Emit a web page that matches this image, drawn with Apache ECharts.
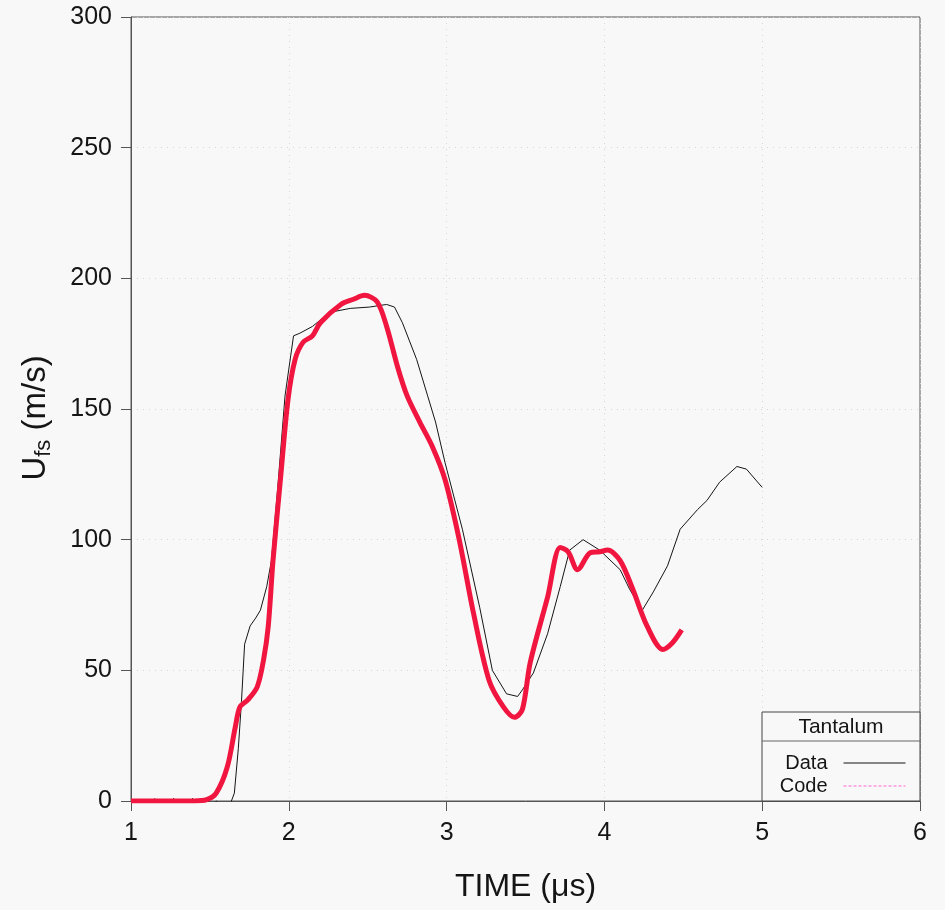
<!DOCTYPE html>
<html>
<head>
<meta charset="utf-8">
<script src="https://cdn.jsdelivr.net/npm/echarts@6/dist/echarts.min.js"></script>
<style>
  html, body { margin: 0; padding: 0; background: #f8f8f8; }
  #chart { width: 945px; height: 910px; }
</style>
</head>
<body>
<div id="chart"></div>
<script>
// measured free-surface velocity (black trace)
const dataTime = [1.15, 1.18, 1.21, 1.24, 1.27, 1.30, 1.33, 1.36, 1.39, 1.42, 1.45, 1.48, 1.51, 1.54, 1.57, 1.60, 1.63, 1.655,
  1.68, 1.70, 1.72, 1.755, 1.79, 1.82, 1.86, 1.89, 1.93, 1.976, 2.03, 2.07, 2.15, 2.26, 2.39, 2.51, 2.62, 2.67, 2.72, 2.81,
  2.88, 2.93, 2.99, 3.10, 3.21, 3.29, 3.38, 3.45, 3.48, 3.55, 3.64, 3.72, 3.78, 3.865, 3.97, 4.10, 4.16, 4.24, 4.31, 4.40,
  4.48, 4.59, 4.65, 4.73, 4.84, 4.90, 5.0]
const dataVel = [1, -2, 0, -3, 1, -2, 0, -2, 1, -1, -2, 1, -2, 0, -1, -2, -1, 3,
  20, 38, 60, 67, 70, 73, 82, 92, 120, 155, 178, 179, 181.6, 187, 188.5, 189, 190, 189, 183, 169,
  155, 145, 129.5, 104, 74, 50, 41, 40, 42.5, 49, 64, 82, 96, 100, 96, 88.5, 81, 73, 80, 90,
  104, 111.5, 115, 122, 128, 127, 120]

// simulation (red trace)
const codeTime = [1.0, 1.2, 1.4, 1.48, 1.54, 1.61, 1.66, 1.69, 1.74, 1.80, 1.84, 1.87, 1.90, 1.95, 1.995, 2.04, 2.09, 2.15,
  2.20, 2.33, 2.41, 2.48, 2.56, 2.62, 2.69, 2.75, 2.83, 2.91, 2.99, 3.08, 3.17, 3.27, 3.36, 3.43, 3.48, 3.53, 3.64, 3.72,
  3.77, 3.83, 3.91, 3.97, 4.02, 4.10, 4.18, 4.27, 4.37, 4.43, 4.49]
const codeVel = [0, 0, 0, 0.5, 3, 13, 28, 36, 38.7, 43.7, 54, 67, 92, 125, 153.6, 169, 175.5, 178,
  183, 190, 192, 193.5, 191, 181.6, 166, 155, 145, 135.6, 123, 100, 72, 46, 36, 32, 35, 53, 78, 97,
  95.4, 88.5, 95, 95.4, 96, 92, 81, 67, 58, 60.5, 65.5]

const xTicks = [1, 2, 3, 4, 5, 6]
const yTicks = [0, 50, 100, 150, 200, 250, 300]

const font = 'Liberation Sans, Arial, sans-serif'
const ink = '#151515'

const chart = echarts.init(document.getElementById('chart'))

const zip = (xs, ys) => xs.map((x, i) => [x, ys[i]])

chart.setOption({
  backgroundColor: '#f8f8f8',
  animation: false,
  textStyle: {fontFamily: font, color: ink},
  grid: {
    left: 131,
    right: 25,
    top: 17,
    bottom: 109,
    show: true,
    borderColor: '#555',
    borderWidth: 1,
  },
  graphic: [
    {
      type: 'rect',
      shape: {x: 762, y: 712, width: 158, height: 89},
      style: {fill: '#f8f8f8', stroke: '#444', lineWidth: 1},
      z: 5,
    },
    {
      type: 'line',
      shape: {x1: 762, y1: 741, x2: 920, y2: 741},
      style: {stroke: '#666', lineWidth: 1},
      z: 6,
    },
    {
      type: 'text',
      x: 841,
      y: 727,
      style: {text: 'Tantalum', fontFamily: font, fontSize: 21, fill: ink, align: 'center', verticalAlign: 'middle'},
      z: 6,
    },
  ],
  legend: {
    orient: 'vertical',
    right: 39,
    top: 753,
    padding: 0,
    itemWidth: 62,
    itemHeight: 14,
    itemGap: 3,
    align: 'right',
    z: 7,
    textStyle: {fontFamily: font, fontSize: 20, color: ink, padding: [0, 11, 0, 0]},
    data: [
      {name: 'Data', itemStyle: {opacity: 0}, lineStyle: {color: ink, width: 1, type: 'solid'}},
      {name: 'Code', itemStyle: {opacity: 0}, lineStyle: {color: '#ff66cc', width: 1, type: [3, 2]}},
    ],
  },
  xAxis: {
    type: 'value',
    min: xTicks[0],
    max: xTicks[xTicks.length - 1],
    interval: 1,
    name: 'TIME (μs)',
    nameLocation: 'middle',
    nameGap: 70,
    nameTextStyle: {fontFamily: font, fontSize: 32, color: ink},
    axisLine: {show: true, onZero: false, lineStyle: {color: '#555'}},
    axisTick: {show: true, length: 10, lineStyle: {color: '#555'}},
    axisLabel: {fontFamily: font, fontSize: 25, color: ink, margin: 20},
    splitLine: {show: true, lineStyle: {color: '#d6d6d6', type: [1, 5]}},
  },
  yAxis: {
    type: 'value',
    min: yTicks[0],
    max: yTicks[yTicks.length - 1],
    interval: 50,
    name: '{a|U}{b|fs}{a| (m/s)}',
    nameLocation: 'middle',
    nameRotate: 90,
    nameGap: 76,
    nameTextStyle: {
      padding: [0, 18, 0, 0],
      rich: {
        a: {fontFamily: font, fontSize: 33, color: ink},
        b: {fontFamily: font, fontSize: 22, color: ink, padding: [16, 0, 0, 0]},
      },
    },
    axisLine: {show: true, lineStyle: {color: '#555'}},
    axisTick: {show: true, length: 10, lineStyle: {color: '#555'}},
    axisLabel: {fontFamily: font, fontSize: 25, color: ink, margin: 19},
    splitLine: {show: true, lineStyle: {color: '#d6d6d6', type: [1, 5]}},
  },
  series: [
    {
      name: 'Data',
      type: 'line',
      data: zip(dataTime, dataVel),
      symbol: 'none',
      lineStyle: {color: ink, width: 1},
      itemStyle: {color: ink},
      z: 3,
    },
    {
      name: 'Code',
      type: 'line',
      data: zip(codeTime, codeVel),
      symbol: 'none',
      smooth: 0.3,
      lineStyle: {color: '#f0163f', width: 5},
      itemStyle: {color: '#f0163f'},
      z: 4,
    },
  ],
})
</script>
</body>
</html>
